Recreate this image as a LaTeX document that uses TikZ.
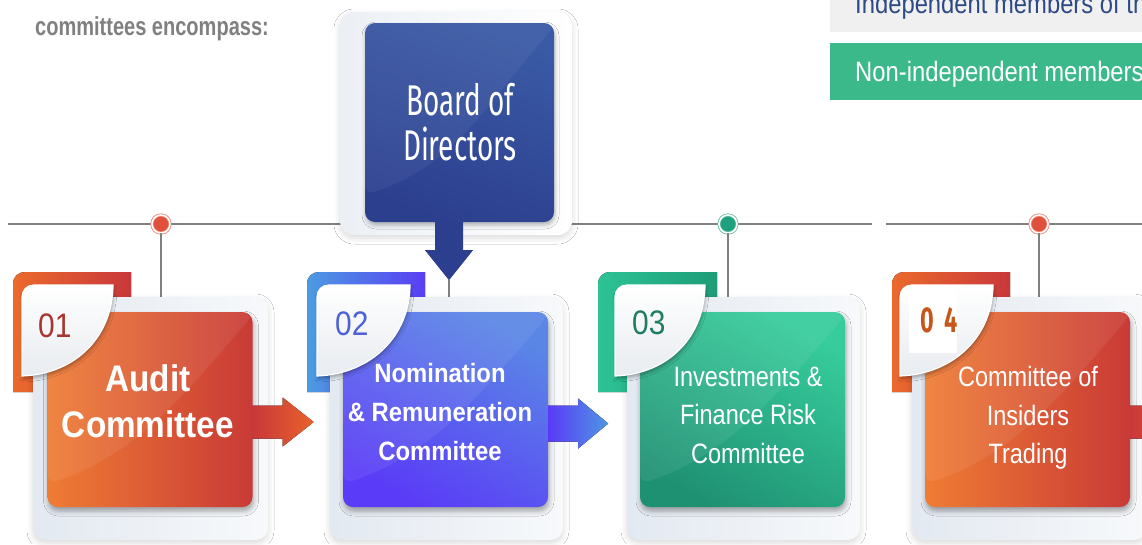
\documentclass[tikz,border=0pt]{standalone}
\usepackage{fontspec}
\setmainfont{Liberation Sans}
\newfontfamily\headfont{Liberation Sans}[FakeStretch=0.77]
\newfontfamily\legendfont{Liberation Sans}[FakeStretch=0.85]
\newfontfamily\cardfont{Liberation Sans}[FakeStretch=0.84]
\newfontfamily\cardboldfont{Liberation Sans}[FakeStretch=0.9]
\newfontfamily\numfont{Liberation Sans}[FakeStretch=0.88]
\newfontfamily\boardfont{Fira Sans}[FakeStretch=0.65]
\usetikzlibrary{shadows.blur,calc}

\definecolor{lineGray}{HTML}{808080}
\definecolor{headGray}{HTML}{808080}
\definecolor{legendGray}{HTML}{F0F0F0}
\definecolor{legendGreen}{HTML}{3BB98B}
\definecolor{legendBlue}{HTML}{2E4A86}
\definecolor{cardL}{HTML}{E3E9F1}
\definecolor{cardR}{HTML}{F7F9FB}
\definecolor{orgL}{HTML}{EF7C34}
\definecolor{orgR}{HTML}{C93A36}
\definecolor{tabOrgL}{HTML}{EB6A2D}
\definecolor{tabOrgR}{HTML}{C8383A}
\definecolor{arrOrg}{HTML}{E8622C}
\definecolor{bluTop}{HTML}{5A86E6}
\definecolor{bluBot}{HTML}{5A3BF7}
\definecolor{tabBluL}{HTML}{4C9BE2}
\definecolor{tabBluR}{HTML}{5A3EF4}
\definecolor{grnTop}{HTML}{36CC9B}
\definecolor{grnBot}{HTML}{1F9173}
\definecolor{tabGrnL}{HTML}{2DC395}
\definecolor{tabGrnR}{HTML}{1E9C78}
\definecolor{boardDark}{HTML}{2C3F8F}
\definecolor{boardHi}{HTML}{3A5AA5}
\definecolor{markRed}{HTML}{E0503A}
\definecolor{markGreen}{HTML}{1FA07C}
\definecolor{num1}{HTML}{A83530}
\definecolor{num2}{HTML}{4D62D6}
\definecolor{num3}{HTML}{1F7D62}
\definecolor{num4}{HTML}{C8561B}

% light sheen over the upper-left part of a coloured box
\newcommand\glossfill[1]{\fill[white,opacity=#1]
  (path picture bounding box.north west)
  -- ([yshift=-172pt]path picture bounding box.north west)
  .. controls +(90pt,30pt) and +(-70pt,-80pt) ..
  ([yshift=-4pt]path picture bounding box.north east)
  -- (path picture bounding box.north east) -- cycle;}

% coloured tab behind a card, rounded only at the top-left corner
\newcommand\cardtab[3]{\fill[#3] (#1,392) -- (#1,284)
  .. controls (#1,277) and ({#1+5},272) .. ({#1+12},272)
  -- (#2,272) -- (#2,392) -- cycle;}

% number badge folded over the card corner
\newcommand\cardbadge[2]{\fill[badgestyle] (#1,376) -- (#1,297)
  .. controls (#1,290) and ({#1+5},285) .. ({#1+12},285)
  -- (#2,285) .. controls (#2,335) and ({#1+55},374) .. (#1,376) -- cycle;}

\tikzset{
  conn/.style={draw=lineGray, line width=1.5pt},
  marker/.style={circle, inner sep=0pt, minimum size=18pt, fill=#1,
    draw=#1!70!white, line width=0.8pt, double=white, double distance=1.6pt},
  outercard/.style={rounded corners=12pt, inner sep=0pt,
    left color=cardL, right color=cardR,
    blur shadow={shadow xshift=0pt, shadow yshift=-3pt,
      shadow blur radius=6pt, shadow opacity=15}},
  mainbox/.style={rounded corners=10pt, inner sep=0pt,
    minimum width=205pt, minimum height=195pt,
    blur shadow={shadow xshift=1pt, shadow yshift=-4pt,
      shadow blur radius=5pt, shadow opacity=35},
    path picture={\glossfill{0.07}}},
  badgestyle/.style={top color=white, bottom color=cardL!90!gray!60!white,
    draw=white, line width=1.2pt,
    blur shadow={shadow xshift=1pt, shadow yshift=-3pt,
      shadow blur radius=3pt, shadow opacity=30}},
  cardtext/.style={text=white, align=center, inner sep=0pt},
  numtext/.style={anchor=base west, inner sep=0pt,
    font=\numfont\fontsize{34}{34}\selectfont},
  legendbox/.style={anchor=north west, minimum width=330pt,
    minimum height=57pt, inner xsep=25pt, inner ysep=0pt,
    text height=20.5pt, text depth=0pt,
    font=\legendfont\fontsize{28}{30}\selectfont},
}

\begin{document}
\begin{tikzpicture}[x=1pt,y=-1pt]
\useasboundingbox (0,0) rectangle (1142,544);
\clip (0,0) rectangle (1142,544);
\fill[white] (0,0) rectangle (1142,544);

% heading and legend
\node[anchor=base west, inner sep=0pt, text=headGray,
  font=\headfont\bfseries\fontsize{26}{30}\selectfont] (heading) at (35,35)
  {committees encompass:};
\node[legendbox, fill=legendGray, text=legendBlue] (indep) at (830,-25)
  {Independent members of the};
\node[legendbox, fill=legendGreen, text=white] (nonindep) at (830,43)
  {Non-independent members};

% timeline
\coordinate (hlA) at (8,224);
\coordinate (hlB) at (872,224);
\coordinate (hlC) at (886,224);
\coordinate (hlD) at (1150,224);
\draw[conn] (hlA) -- (hlB);
\draw[conn] (hlC) -- (hlD);
\node[marker=markRed] (m1) at (161,224) {};
\node[marker=markGreen] (m3) at (728,224) {};
\node[marker=markRed] (m4) at (1039,224) {};

% board of directors
\node[outercard, rounded corners=14pt, minimum width=232pt, minimum height=223pt,
  left color=cardL!70!white, right color=white] (boardcard) at (456,123.5) {};
\node[rounded corners=10pt, inner sep=0pt, minimum width=189pt, minimum height=199pt,
  top color=boardHi, bottom color=boardDark, shading angle=-20,
  blur shadow={shadow xshift=1pt, shadow yshift=-3pt, shadow blur radius=4pt, shadow opacity=30},
  path picture={\glossfill{0.05}}] (board) at (459.5,122.5) {};
\node[text=white, align=center, inner sep=0pt,
  font=\boardfont\fontsize{43}{45}\selectfont] (boardtext) at (460,122)
  {Board of\\Directors};
\coordinate (bdarrow) at ($(board.south)+(-10.5,0)$);
\fill[boardDark] (bdarrow) ++(-14,0) -- ++(0,28) -- ++(-10,0) -- ++(24,30)
  -- ++(24,-30) -- ++(-10,0) -- ++(0,-28) -- cycle;
\coordinate (bdtip) at ($(bdarrow)+(0,58)$);

% card 1: audit
\cardtab{13}{131}{left color=tabOrgL, right color=tabOrgR}
\node[outercard, minimum width=235pt, minimum height=243pt] (card1) at (150.5,418.5) {};
\node[mainbox, left color=orgL, right color=orgR] (audit) at (150,409.5) {};
\cardbadge{22}{113}
\node[numtext, text=num1] (n1) at (38,337) {01};
\node[cardtext, font=\cardboldfont\bfseries\fontsize{37}{46}\selectfont] (audittext)
  at (148,401) {Audit\\Committee};

% card 2: nomination and remuneration
\cardtab{307}{425}{left color=tabBluL, right color=tabBluR}
\node[outercard, minimum width=233pt, minimum height=243pt] (card2) at (446.5,418.5) {};
\node[mainbox, top color=bluTop, bottom color=bluBot, shading angle=-30] (nomination) at (445.5,409.5) {};
\cardbadge{317}{410}
\node[numtext, text=num2] (n2) at (335,335) {02};
\node[cardtext, font=\cardboldfont\bfseries\fontsize{26.5}{39}\selectfont] (nominationtext)
  at (440,412) {Nomination\\\& Remuneration\\Committee};

% card 3: investments and finance risk
\cardtab{598}{717}{left color=tabGrnL, right color=tabGrnR}
\node[outercard, minimum width=233pt, minimum height=243pt] (card3) at (743.5,418.5) {};
\node[mainbox, top color=grnTop, bottom color=grnBot, shading angle=-30] (investments) at (742.5,409.5) {};
\cardbadge{615}{705}
\node[numtext, text=num3] (n3) at (632,334) {03};
\node[cardtext, font=\cardfont\fontsize{28}{38.5}\selectfont] (investmentstext)
  at (748,415) {Investments \&\\Finance Risk\\Committee};

% card 4: insiders trading
\cardtab{892}{1010}{left color=tabOrgL, right color=tabOrgR}
\node[outercard, minimum width=234pt, minimum height=243pt] (card4) at (1029,418.5) {};
\node[mainbox, left color=orgL, right color=orgR] (insiders) at (1027.5,409.5) {};
\cardbadge{900}{993}
\fill[white] (909,287) rectangle (957,353);
\node[anchor=base west, inner sep=0pt, text=num4,
  font=\boardfont\bfseries\fontsize{36}{36}\selectfont] (n4) at (920,332) {0 \hspace{5pt}4};
\node[cardtext, font=\cardfont\fontsize{28}{38.5}\selectfont] (insiderstext)
  at (1028,418) {Committee of\\Insiders\\Trading};

% block arrows between the committees
\coordinate (ar1) at ($(audit.east)+(0,12.5)$);
\fill[left color=tabOrgR, right color=arrOrg] (ar1) ++(0,-16.5) -- ++(30,0)
  -- ++(0,-8) -- ++(31,24.5) -- ++(-31,24.5) -- ++(0,-8) -- ++(-30,0) -- cycle;
\coordinate (ar2) at ($(nomination.east)+(0,13.5)$);
\fill[left color=bluBot, right color=tabBluL!80!bluTop] (ar2) ++(0,-17.5) -- ++(30,0)
  -- ++(0,-7) -- ++(30,25) -- ++(-30,25) -- ++(0,-7) -- ++(-30,0) -- cycle;
\coordinate (ar4) at ($(insiders.east)+(0,12.5)$);
\fill[left color=tabOrgR, right color=arrOrg] (ar4) ++(0,-16.5) -- ++(30,0)
  -- ++(0,-8) -- ++(31,24.5) -- ++(-31,24.5) -- ++(0,-8) -- ++(-30,0) -- cycle;

% connectors from the timeline down to the cards
\draw[conn] (m1.south) -- (m1.south |- card1.north);
\draw[conn] (bdtip) -- (bdtip |- card2.north);
\draw[conn] (m3.south) -- (m3.south |- card3.north);
\draw[conn] (m4.south) -- (m4.south |- card4.north);
\end{tikzpicture}
\end{document}
